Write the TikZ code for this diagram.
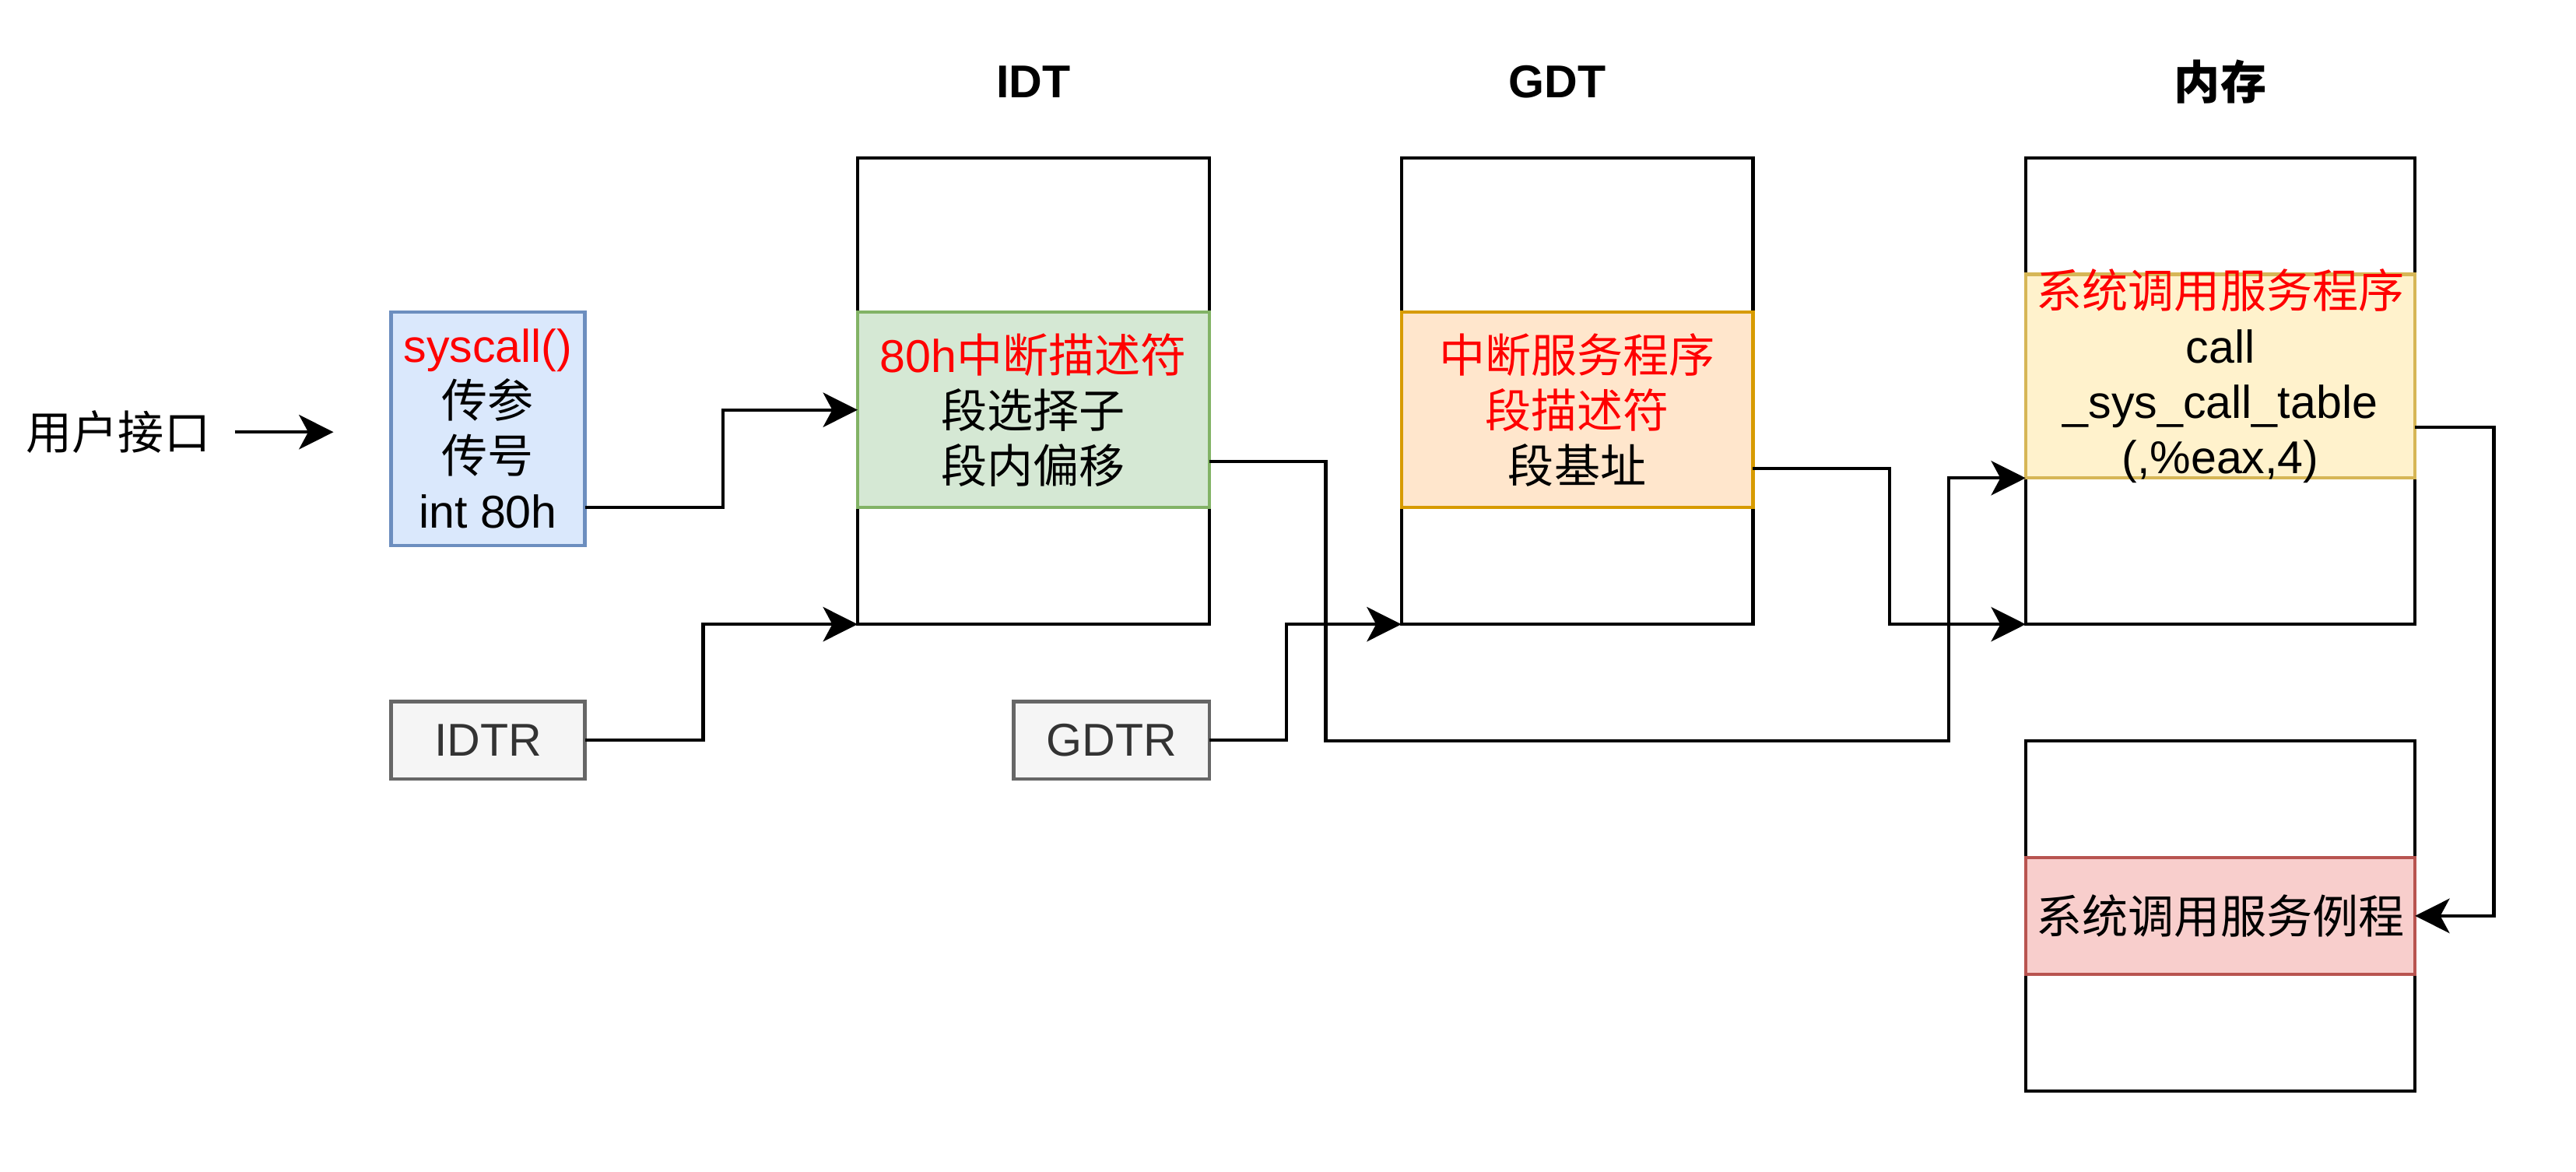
\documentclass[tikz,border=0pt]{standalone}
\usepackage{fontspec}
\setmainfont{Liberation Sans}
\newfontfamily\cjk{Noto Sans CJK SC}
\usetikzlibrary{arrows.meta,calc}
\newcommand{\zh}[1]{{\cjk #1}}
\definecolor{bluefill}{HTML}{DAE8FC}\definecolor{bluedraw}{HTML}{6C8EBF}
\definecolor{greenfill}{HTML}{D5E8D4}\definecolor{greendraw}{HTML}{82B366}
\definecolor{orangefill}{HTML}{FFE6CC}\definecolor{orangedraw}{HTML}{D79B00}
\definecolor{yellowfill}{HTML}{FFF2CC}\definecolor{yellowdraw}{HTML}{D6B656}
\definecolor{redfill}{HTML}{F8CECC}\definecolor{reddraw}{HTML}{B85450}
\definecolor{grayfill}{HTML}{F5F5F5}\definecolor{graydraw}{HTML}{666666}
\definecolor{graytext}{HTML}{333333}
\definecolor{pure red}{HTML}{FF0000}
\begin{document}
\begin{tikzpicture}[x=0.5pt,y=-0.5pt,
  every node/.style={inner sep=0pt,outer sep=0pt,font=\fontsize{14pt}{16.8pt}\selectfont,align=center},
  frame/.style={draw=black,line width=1pt,fill=white},
  region/.style={line width=1pt},
  arr/.style={line width=1pt,-{Stealth[length=10.5pt,width=10.5pt,inset=2.8pt]}},
  title/.style={font=\fontsize{14pt}{16.8pt}\selectfont\bfseries}
]
\useasboundingbox (0,0) rectangle (1568,713);

% titles
\node[title] (tidt) at (629,50) {IDT};
\node[title] (tgdt) at (948,50) {GDT};
\node[title] (tmem) at (1351.5,50) {\zh{\bfseries 内存}};

% tables
\node[frame,minimum width=107pt,minimum height=142pt] (idt) at (629,238) {};
\node[frame,minimum width=107pt,minimum height=142pt] (gdt) at (960,238) {};
\node[frame,minimum width=118.5pt,minimum height=142pt] (mem1) at (1351.5,238) {};
\node[frame,minimum width=118.5pt,minimum height=106.5pt] (mem2) at (1351.5,557.5) {};

% coloured entries
\node[region,draw=greendraw,fill=greenfill,minimum width=107pt,minimum height=59.5pt] (green) at (629,249.5)
  {\textcolor{pure red}{80h\zh{中断描述符}}\\ \zh{段选择子}\\ \zh{段内偏移}};
\node[region,draw=orangedraw,fill=orangefill,minimum width=107pt,minimum height=59.5pt] (orange) at (960,249.5)
  {\textcolor{pure red}{\zh{中断服务程序}}\\ \textcolor{pure red}{\zh{段描述符}}\\ \zh{段基址}};
\node[region,draw=yellowdraw,fill=yellowfill,minimum width=118.5pt,minimum height=62pt] (yellow) at (1351.5,229) {};
\node (yellowtext) at (yellow.center)
  {\textcolor{pure red}{\zh{系统调用服务程序}}\\ call\\ \_sys\_call\_table\\ (,\%eax,4)};
\node[region,draw=reddraw,fill=redfill,minimum width=118.5pt,minimum height=35.5pt] (redbox) at (1351.5,557.5)
  {\zh{系统调用服务例程}};

% left boxes
\node[region,draw=bluedraw,fill=bluefill,minimum width=59pt,minimum height=71pt] (sys) at (297,261)
  {\textcolor{pure red}{syscall()}\\ \zh{传参}\\ \zh{传号}\\ int 80h};
\node[region,draw=graydraw,fill=grayfill,text=graytext,minimum width=59pt,minimum height=23.5pt] (idtr) at (297,450.5) {IDTR};
\node[region,draw=graydraw,fill=grayfill,text=graytext,minimum width=59.5pt,minimum height=23.5pt] (gdtr) at (676.5,450.5) {GDTR};

% user interface
\node (ui) at (72,263) {\zh{用户接口}};
\coordinate (uiend) at (203,263);
\draw[arr] ($(ui.east)+(15,0)$) -- (uiend);

% connectors
\draw[arr] ($(sys.east)+(0,48)$) -- ++(84,0) |- (green.west);
\draw[arr] (idtr.east) -- ++(72,0) |- (idt.south west);
\coordinate (b3a) at (807,451);
\coordinate (b3b) at (1186,291);
\draw[arr] ($(green.east)+(0,31.5)$) -| (b3a) -| (b3b) -- (yellow.south west);
\draw[arr] (gdtr.east) -- ++(47,0) |- (gdt.south west);
\draw[arr] ($(orange.east)+(0,35.5)$) -- ++(83,0) |- (mem1.south west);
\draw[arr] ($(yellow.east)+(0,31)$) -- ++(48,0) |- (redbox.east);
\end{tikzpicture}
\end{document}
